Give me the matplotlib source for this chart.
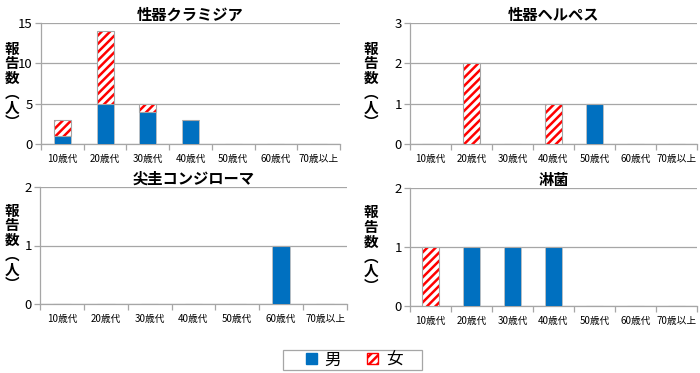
import matplotlib.pyplot as plt
import numpy as np
from matplotlib.patches import Patch, Rectangle

plt.rcParams['font.family'] = ['Noto Sans CJK JP', 'DejaVu Sans']
plt.rcParams['hatch.linewidth'] = 1.8

ages = ["10歳代", "20歳代", "30歳代", "40歳代", "50歳代", "60歳代", "70歳以上"]

titles = ["性器クラミジア", "性器ヘルペス", "尖圭コンジローマ", "淋菌"]
male = [
    [1, 5, 4, 3, 0, 0, 0],
    [0, 0, 0, 0, 1, 0, 0],
    [0, 0, 0, 0, 0, 1, 0],
    [0, 1, 1, 1, 0, 0, 0],
]
female = [
    [2, 9, 1, 0, 0, 0, 0],
    [0, 2, 0, 1, 0, 0, 0],
    [0, 0, 0, 0, 0, 0, 0],
    [1, 0, 0, 0, 0, 0, 0],
]
ymax = [15, 3, 2, 2]
ystep = [5, 1, 1, 1]

BLUE = "#0070C0"
RED = "#FF0000"
GRAY = "#A6A6A6"

W, H = 700, 373
# axes boxes in pixels: left, top, right, bottom
boxes = [
    (41, 23, 340, 144),
    (410, 23, 697, 144),
    (40, 187, 347, 304),
    (410, 188, 697, 306),
]
ylab_x = [12, 371, 12, 371]

fig = plt.figure(figsize=(7, 3.73), dpi=100)

x = np.arange(len(ages))
bw = 0.4
for i in range(4):
    l, t, r, b = boxes[i]
    ax = fig.add_axes([l / W, 1 - b / H, (r - l) / W, (b - t) / H])
    m = np.array(male[i])
    f = np.array(female[i])
    ax.bar(x, m, bw, color=BLUE, edgecolor="#BFBFBF", linewidth=0.6, zorder=3)
    ax.bar(x, f, bw, bottom=m, color="white", edgecolor=RED, hatch="////",
           linewidth=0, zorder=3)
    ax.bar(x, f, bw, bottom=m, fill=False, edgecolor=GRAY, linewidth=0.8, zorder=4)
    ax.set_xlim(-0.5, len(ages) - 0.5)
    ax.set_ylim(0, ymax[i])
    ax.set_yticks(np.arange(0, ymax[i] + 1, ystep[i]))
    ax.yaxis.grid(True, color=GRAY, linewidth=0.9, zorder=0)
    ax.set_xticks(x)
    ax.set_xticklabels(ages, fontsize=7)
    ax.set_xticks(np.arange(-0.5, len(ages)), minor=True)
    ax.tick_params(axis="x", which="major", length=0, pad=7)
    ax.tick_params(axis="x", which="minor", length=4, color=GRAY, width=0.9)
    ax.tick_params(axis="y", length=4, color=GRAY, width=0.9, labelsize=9.5, pad=2)
    for s in ["top", "right"]:
        ax.spines[s].set_visible(False)
    ax.spines["left"].set_color(GRAY)
    ax.spines["bottom"].set_color(GRAY)
    ax.spines["left"].set_linewidth(0.9)
    ax.spines["bottom"].set_linewidth(0.9)
    ax.set_title(titles[i], fontsize=11, fontweight="bold", pad=2)
    yc = (t + b) / 2 + 2
    fig.text(ylab_x[i] / W, 1 - yc / H, "報\n告\n数\n︵\n人\n︶", fontsize=10.5,
             fontweight="bold", ha="center", va="center", linespacing=0.9)

# legend
handles = [Patch(facecolor=BLUE, edgecolor=BLUE),
           Patch(facecolor="white", edgecolor=RED, hatch="////")]
fig.legend(handles, ["男", "女"], loc="center", ncol=2,
           bbox_to_anchor=(354 / W, 1 - 360 / H), fontsize=12,
           frameon=False, handlelength=0.65, handleheight=0.65,
           columnspacing=1.6, handletextpad=0.45, borderpad=0, borderaxespad=0)
fig.patches.append(Rectangle((283 / W, 1 - 370 / H), 139 / W, 20 / H,
                             transform=fig.transFigure, fill=False,
                             edgecolor=GRAY, linewidth=0.9))

fig.savefig("out.png", dpi=100)
